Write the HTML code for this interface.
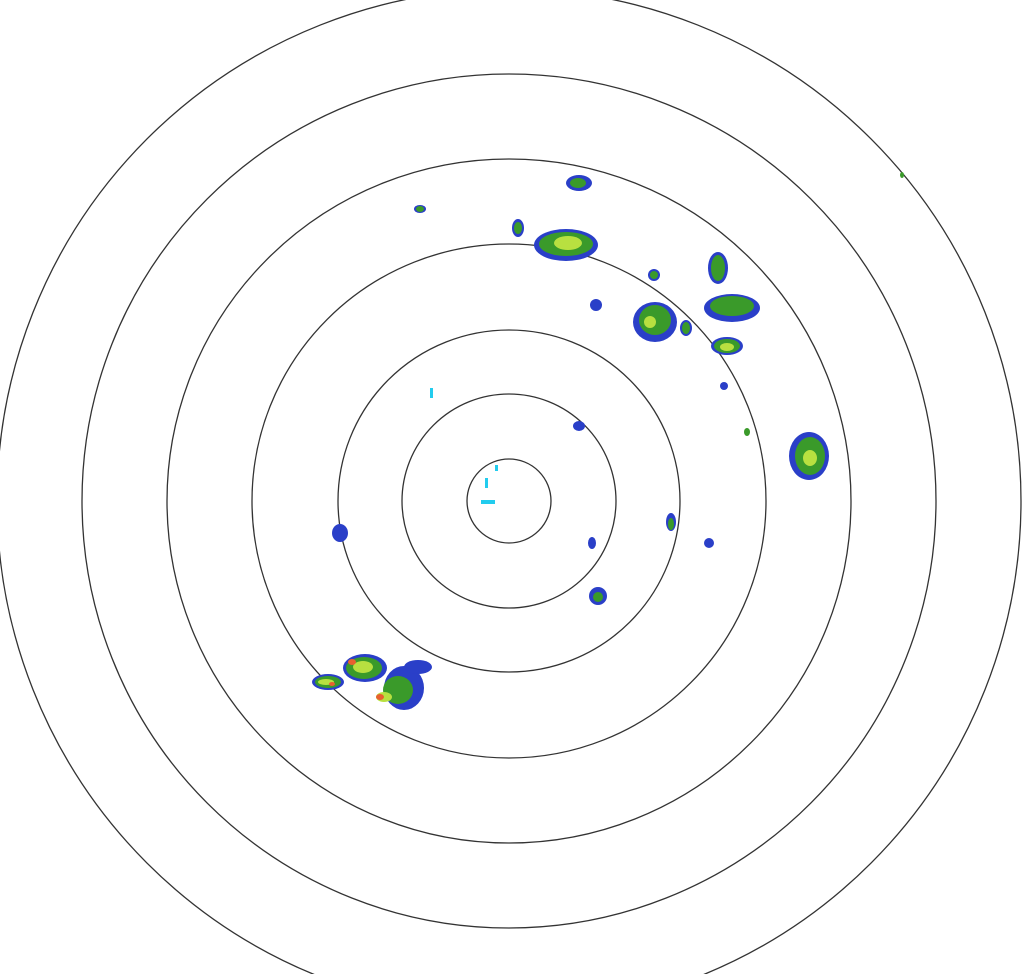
<!DOCTYPE html>
<html><head><meta charset="utf-8"><style>html,body{margin:0;padding:0;background:#fff;overflow:hidden}</style></head>
<body>
<svg width="1029" height="974" viewBox="0 0 1029 974" xmlns="http://www.w3.org/2000/svg">
<g fill="none" stroke="#333" stroke-width="1.3">
<circle cx="509" cy="501" r="42"/>
<circle cx="509" cy="501" r="107"/>
<circle cx="509" cy="501" r="171"/>
<circle cx="509" cy="501" r="257"/>
<circle cx="509" cy="501" r="342"/>
<circle cx="509" cy="501" r="427"/>
<circle cx="509" cy="501" r="512"/>
</g>
<g>
<!-- blue halos -->
<g fill="#2a3fc8">
<ellipse cx="566" cy="245" rx="32" ry="16"/>
<ellipse cx="579" cy="183" rx="13" ry="8"/>
<ellipse cx="655" cy="322" rx="22" ry="20"/>
<ellipse cx="732" cy="308" rx="28" ry="14"/>
<ellipse cx="718" cy="268" rx="10" ry="16"/>
<ellipse cx="727" cy="346" rx="16" ry="9"/>
<ellipse cx="809" cy="456" rx="20" ry="24"/>
<ellipse cx="365" cy="668" rx="22" ry="14"/>
<ellipse cx="404" cy="688" rx="20" ry="22"/>
<ellipse cx="418" cy="667" rx="14" ry="7"/>
<ellipse cx="328" cy="682" rx="16" ry="8"/>
<ellipse cx="598" cy="596" rx="9" ry="9"/>
<ellipse cx="340" cy="533" rx="8" ry="9"/>
<ellipse cx="579" cy="426" rx="6" ry="5"/>
<ellipse cx="518" cy="228" rx="6" ry="9"/>
<ellipse cx="596" cy="305" rx="6" ry="6"/>
<ellipse cx="592" cy="543" rx="4" ry="6"/>
<ellipse cx="709" cy="543" rx="5" ry="5"/>
<ellipse cx="671" cy="522" rx="5" ry="9"/>
<ellipse cx="686" cy="328" rx="6" ry="8"/>
<ellipse cx="724" cy="386" rx="4" ry="4"/>
<ellipse cx="654" cy="275" rx="6" ry="6"/>
<ellipse cx="420" cy="209" rx="6" ry="4"/>
</g>
<!-- green -->
<g fill="#3a9a2a">
<ellipse cx="566" cy="244" rx="27" ry="12"/>
<ellipse cx="578" cy="183" rx="8" ry="5"/>
<ellipse cx="655" cy="320" rx="16" ry="15"/>
<ellipse cx="732" cy="306" rx="22" ry="10"/>
<ellipse cx="718" cy="268" rx="7" ry="13"/>
<ellipse cx="727" cy="346" rx="13" ry="7"/>
<ellipse cx="810" cy="456" rx="15" ry="19"/>
<ellipse cx="364" cy="668" rx="18" ry="11"/>
<ellipse cx="398" cy="690" rx="15" ry="14"/>
<ellipse cx="328" cy="682" rx="13" ry="6"/>
<ellipse cx="598" cy="597" rx="5" ry="5"/>
<ellipse cx="518" cy="228" rx="4" ry="6"/>
<ellipse cx="654" cy="275" rx="4" ry="4"/>
<ellipse cx="686" cy="328" rx="4" ry="6"/>
<ellipse cx="671" cy="524" rx="3" ry="6"/>
<ellipse cx="420" cy="209" rx="4" ry="3"/>
<ellipse cx="747" cy="432" rx="3" ry="4"/>
<ellipse cx="902" cy="175" rx="2" ry="3"/>
</g>
<g fill="#b8e040">
<ellipse cx="568" cy="243" rx="14" ry="7"/>
<ellipse cx="810" cy="458" rx="7" ry="8"/>
<ellipse cx="727" cy="347" rx="7" ry="4"/>
<ellipse cx="650" cy="322" rx="6" ry="6"/>
<ellipse cx="363" cy="667" rx="10" ry="6"/>
<ellipse cx="384" cy="697" rx="8" ry="5"/>
<ellipse cx="326" cy="682" rx="8" ry="3"/>
</g>
<g fill="#e86030">
<ellipse cx="352" cy="662" rx="4" ry="3"/>
<ellipse cx="380" cy="697" rx="4" ry="3"/>
<ellipse cx="332" cy="684" rx="3" ry="2"/>
</g>
<g fill="#22ccee">
<rect x="481" y="500" width="14" height="4"/>
<rect x="485" y="478" width="3" height="10"/>
<rect x="495" y="465" width="3" height="6"/>
<rect x="430" y="388" width="3" height="10"/>
</g>
</g>
</svg>
</body></html>
